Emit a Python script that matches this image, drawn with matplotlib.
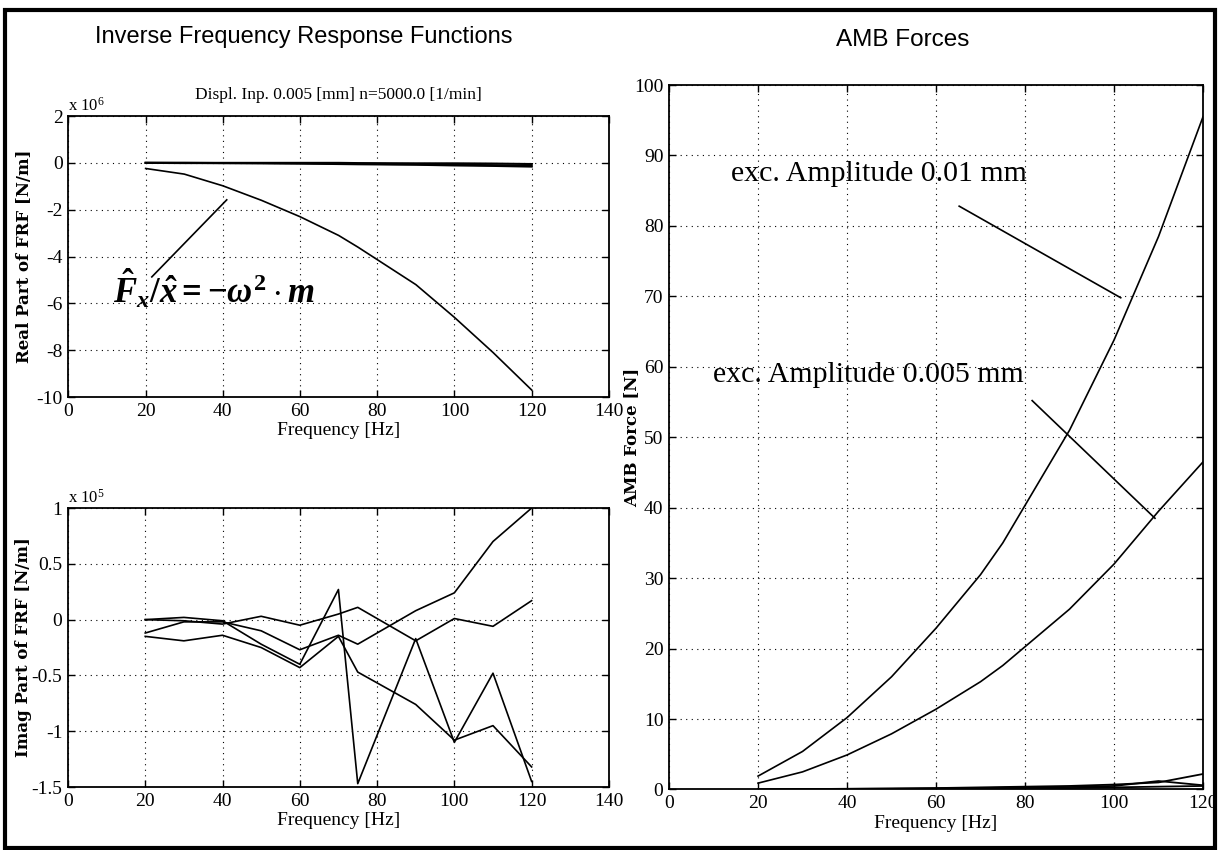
import matplotlib
matplotlib.use("Agg")
import matplotlib.pyplot as plt
from matplotlib.patches import Rectangle
from matplotlib.ticker import FuncFormatter

plt.rcParams['font.family'] = ['Liberation Serif', 'DejaVu Serif']
plt.rcParams['axes.unicode_minus'] = False
plt.rcParams['mathtext.fontset'] = 'custom'
plt.rcParams['mathtext.it'] = 'Liberation Serif:italic:bold'
plt.rcParams['mathtext.rm'] = 'Liberation Serif:bold'
plt.rcParams['mathtext.bf'] = 'Liberation Serif:bold'

# frequencies of the measured points [Hz]
freq = [20, 30, 40, 50, 60, 70, 75, 90, 100, 110, 120]

# real part of inverse FRF [x 1e6 N/m]
re_mass = [-0.24, -0.48, -0.98, -1.6, -2.3, -3.1, -3.6, -5.2, -6.6, -8.1, -9.7]
re_a = [0.0, 0.0, 0.0, 0.0, 0.0, 0.0, -0.01, -0.02, -0.02, -0.03, -0.05]
re_b = [0.0, 0.0, -0.01, -0.01, -0.02, -0.03, -0.04, -0.06, -0.08, -0.10, -0.12]
re_c = [0.0, -0.01, -0.01, -0.02, -0.03, -0.05, -0.06, -0.08, -0.11, -0.13, -0.16]

# imag part of inverse FRF [x 1e5 N/m]
im_a = [-0.12, -0.02, -0.02, -0.10, -0.27, -0.14, -0.22, 0.08, 0.24, 0.70, 1.0]
im_b = [0.0, -0.01, -0.04, 0.03, -0.05, 0.05, 0.11, -0.19, 0.01, -0.06, 0.17]
im_c = [0.0, 0.02, -0.01, -0.22, -0.40, 0.27, -1.47, -0.17, -1.10, -0.48, -1.45]
im_d = [-0.15, -0.19, -0.14, -0.25, -0.43, -0.15, -0.47, -0.76, -1.08, -0.95, -1.32]

# AMB forces [N]
f_001 = [1.9, 5.4, 10.2, 16.0, 22.9, 30.5, 35.0, 51.0, 63.8, 78.5, 95.5]
f_0005 = [0.9, 2.5, 4.9, 7.9, 11.4, 15.3, 17.6, 25.6, 32.0, 39.5, 46.5]
f_r1 = [0.0, 0.05, 0.1, 0.15, 0.2, 0.3, 0.35, 0.5, 0.7, 1.0, 2.2]
f_r2 = [0.0, 0.05, 0.08, 0.1, 0.15, 0.2, 0.25, 0.35, 0.5, 1.2, 0.6]
f_r3 = [0.0, 0.02, 0.04, 0.06, 0.1, 0.12, 0.15, 0.2, 0.3, 0.4, 0.5]

fig = plt.figure(figsize=(12.2, 8.5), dpi=100)

fmt = FuncFormatter(lambda v, p: '%g' % v)


def style_ax(ax, ylabel, lab_x):
    ax.grid(True, color='k', linestyle=(0, (1, 4)), linewidth=0.8)
    ax.tick_params(direction='in', top=True, right=True, length=5, width=1,
                   labelsize=14, pad=4)
    for s in ax.spines.values():
        s.set_linewidth(1.3)
    ax.yaxis.set_major_formatter(fmt)
    ax.set_xlabel('Frequency [Hz]', fontsize=14, labelpad=2)
    ax.set_ylabel(ylabel, family='DejaVu Serif', fontsize=12, fontweight='bold')
    ax.yaxis.set_label_coords(lab_x, 0.5)


# top left: real part
ax1 = fig.add_axes([0.0561, 0.5329, 0.4430, 0.3306])
ax1.plot(freq, re_mass, color='k', lw=1.2)
for ys in (re_a, re_b, re_c):
    ax1.plot(freq, ys, color='k', lw=1.5)
ax1.set_xlim(0, 140)
ax1.set_ylim(-10, 2)
ax1.set_xticks(range(0, 141, 20))
ax1.set_yticks(range(-10, 3, 2))
style_ax(ax1, 'Real Part of FRF [N/m]', -0.066)
ax1.set_title('Displ. Inp. 0.005 [mm] n=5000.0 [1/min]', fontsize=12.5, pad=12)
ax1.text(0.0, 1.02, r'x 10$^{\mathregular{6}}$', transform=ax1.transAxes, fontsize=12)
ax1.plot([21.6, 41], [-4.87, -1.58], color='k', lw=1.2)
ax1.text(11.5, -5.4, r'$\hat{F}_{x}/\hat{x} = -\omega^{2}\cdot m$', fontsize=25, va='center')

# bottom left: imag part
ax2 = fig.add_axes([0.0557, 0.0741, 0.4434, 0.3282])
for ys in (im_a, im_b, im_c, im_d):
    ax2.plot(freq, ys, color='k', lw=1.2)
ax2.set_xlim(0, 140)
ax2.set_ylim(-1.5, 1)
ax2.set_xticks(range(0, 141, 20))
ax2.set_yticks([-1.5, -1, -0.5, 0, 0.5, 1])
style_ax(ax2, 'Imag Part of FRF [N/m]', -0.066)
ax2.text(0.0, 1.02, r'x 10$^{\mathregular{5}}$', transform=ax2.transAxes, fontsize=12)

# right: AMB forces
ax3 = fig.add_axes([0.5484, 0.0712, 0.4377, 0.8288])
ax3.plot(freq, f_001, color='k', lw=1.2)
ax3.plot(freq, f_0005, color='k', lw=1.2)
for ys in (f_r1, f_r2, f_r3):
    ax3.plot(freq, ys, color='k', lw=1.3)
ax3.set_xlim(0, 120)
ax3.set_ylim(0, 100)
ax3.set_xticks(range(0, 121, 20))
ax3.set_yticks(range(0, 101, 10))
style_ax(ax3, 'AMB Force [N]', -0.055)
ax3.text(13.9, 87.4, 'exc. Amplitude 0.01 mm', fontsize=21.5, va='center')
ax3.text(9.9, 58.8, 'exc. Amplitude 0.005 mm', fontsize=21.5, va='center')
ax3.plot([65.2, 101.5], [82.8, 69.8], color='k', lw=1.2)
ax3.plot([81.6, 109.2], [55.2, 38.5], color='k', lw=1.2)

# panel titles
fig.text(304 / 1220, 1 - 37 / 850, 'Inverse Frequency Response Functions',
         family='Liberation Sans', fontsize=17, ha='center', va='center')
fig.text(903 / 1220, 1 - 40 / 850, 'AMB Forces',
         family='Liberation Sans', fontsize=17.5, ha='center', va='center')

# outer frame
fig.add_artist(Rectangle((0.0041, 0.0024), 0.9918, 0.9859, transform=fig.transFigure,
                         fill=False, lw=3, color='k'))

fig.savefig('out.png', dpi=100)
